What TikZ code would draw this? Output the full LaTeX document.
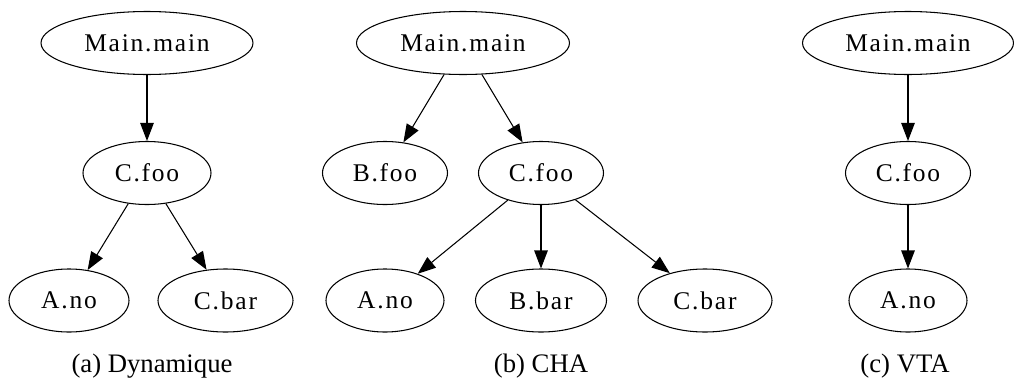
\documentclass[tikz,border=0pt]{standalone}
\usepackage{fontspec}
\setmainfont{Liberation Serif}
\newfontfamily\callfont[LetterSpace=7]{Liberation Serif}
\usetikzlibrary{shapes.geometric,arrows.meta}

\begin{document}
\begin{tikzpicture}[
  call/.style={draw,ellipse,line width=0.6pt,inner sep=0pt,minimum height=1.26cm,font=\callfont\fontsize{14.5}{17}\selectfont},
  edge/.style={line width=0.6pt,-{Triangle[length=0.36cm,width=0.27cm]}},
  sub/.style={anchor=base,inner sep=0pt,font=\fontsize{15.2}{18}\selectfont}]
\useasboundingbox (0,0) rectangle (20.28,-7.56);

% (a) dynamique
\node[call,minimum width=4.24cm] (mainA) at (2.94,-0.86) {Main.main};
\node[call,minimum width=2.56cm] (fooA) at (2.94,-3.46) {C.foo};
\node[call,minimum width=2.40cm] (noA) at (1.38,-6.01) {A.no};
\node[call,minimum width=2.70cm] (barA) at (4.51,-6.01) {C.bar};
\draw[edge] (mainA) -- (fooA);
\draw[edge] (fooA) -- (noA);
\draw[edge] (fooA) -- (barA);
\node[sub] (capA) at (3.04,-7.44) {(a) Dynamique};

% (b) CHA
\node[call,minimum width=4.26cm] (mainB) at (9.26,-0.86) {Main.main};
\node[call,minimum width=2.50cm] (bfooB) at (7.70,-3.46) {B.foo};
\node[call,minimum width=2.50cm] (cfooB) at (10.82,-3.46) {C.foo};
\node[call,minimum width=2.36cm] (noB) at (7.70,-6.01) {A.no};
\node[call,minimum width=2.62cm] (bbarB) at (10.82,-6.01) {B.bar};
\node[call,minimum width=2.68cm] (cbarB) at (14.10,-6.01) {C.bar};
\draw[edge] (mainB) -- (bfooB);
\draw[edge] (mainB) -- (cfooB);
\draw[edge] (cfooB) -- (noB);
\draw[edge] (cfooB) -- (bbarB);
\draw[edge] (cfooB) -- (cbarB);
\node[sub] (capB) at (10.82,-7.44) {(b) CHA};

% (c) VTA
\node[call,minimum width=4.22cm] (mainC) at (18.16,-0.86) {Main.main};
\node[call,minimum width=2.50cm] (fooC) at (18.16,-3.46) {C.foo};
\node[call,minimum width=2.36cm] (noC) at (18.16,-6.01) {A.no};
\draw[edge] (mainC) -- (fooC);
\draw[edge] (fooC) -- (noC);
\node[sub] (capC) at (18.10,-7.44) {(c) VTA};

\end{tikzpicture}
\end{document}
